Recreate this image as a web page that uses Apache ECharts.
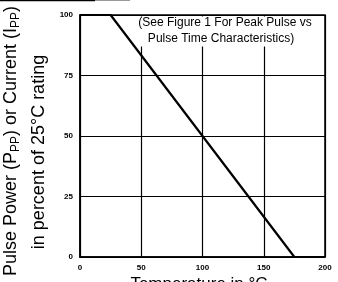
<!DOCTYPE html>
<html>
<head>
<meta charset="utf-8">
<script src="https://cdn.jsdelivr.net/npm/echarts@6/dist/echarts.min.js"></script>
<style>
	html, body { margin: 0; padding: 0; background: #fff; }
	#chart { width: 338px; height: 282px; }
</style>
</head>
<body>
<div id="chart"></div>
<script>
// derating curve, temperature in degC vs percent of 25C rating
var temps = [0, 25, 175, 200];
var percents = [100, 100, 0, 0];
var xTicks = [0, 50, 100, 150, 200];
var yTicks = [0, 25, 50, 75, 100];

var font = '"Liberation Sans", Arial, sans-serif';

var chart = echarts.init(document.getElementById('chart'));

chart.setOption({
	animation: false,
	backgroundColor: '#fff',
	grid: {
		left: 80, right: 13, top: 15, bottom: 25,
		show: true, borderColor: '#000', borderWidth: 1.5
	},
	xAxis: {
		type: 'value',
		min: xTicks[0], max: xTicks[xTicks.length - 1], interval: 50,
		axisLine: { show: true, lineStyle: { color: '#000', width: 1.5 } },
		axisTick: { show: false },
		splitLine: { show: true, lineStyle: { color: '#000', width: 1.2 } },
		axisLabel: { color: '#000', fontFamily: font, fontSize: 8, fontWeight: 'bold', margin: 7 }
	},
	yAxis: {
		type: 'value',
		min: yTicks[0], max: yTicks[yTicks.length - 1], interval: 25,
		axisLine: { show: true, lineStyle: { color: '#000', width: 1.5 } },
		axisTick: { show: false },
		splitLine: { show: true, lineStyle: { color: '#000', width: 1.2 } },
		axisLabel: { color: '#000', fontFamily: font, fontSize: 8, fontWeight: 'bold', margin: 7 }
	},
	series: [{
		type: 'line',
		data: temps.map(function (t, i) { return [t, percents[i]]; }),
		symbol: 'none',
		lineStyle: { color: '#000', width: 2.2 },
		z: 5
	}],
	graphic: [
		// scan edge at top
		{
			type: 'line', shape: { x1: 0, y1: 0.5, x2: 95, y2: 0.5 },
			style: { stroke: '#000', lineWidth: 1.5 }, z: 1
		},
		{
			type: 'line', shape: { x1: 95, y1: 0.5, x2: 130, y2: 0.5 },
			style: { stroke: '#999', lineWidth: 1 }, z: 1
		},
		// note box covering upper grid
		{
			type: 'rect', shape: { x: 116, y: 16.5, width: 208, height: 30 },
			style: { fill: '#fff' }, z: 1
		},
		{
			type: 'text', x: 225, y: 23, z: 11,
			style: {
				text: '(See Figure 1 For Peak Pulse vs', fill: '#000',
				font: '12px ' + font, align: 'center', verticalAlign: 'middle'
			}
		},
		{
			type: 'text', x: 221, y: 39, z: 11,
			style: {
				text: 'Pulse Time Characteristics)', fill: '#000',
				font: '12px ' + font, align: 'center', verticalAlign: 'middle'
			}
		},
		// y axis title, two lines
		{
			type: 'text', x: 11, y: 141, rotation: Math.PI / 2, z: 11,
			style: {
				text: 'Pulse Power (P{s|PP}) or Current (I{s|PP})', fill: '#000',
				font: '18px ' + font, align: 'center', verticalAlign: 'middle',
				rich: { s: { fontSize: 12, fontFamily: font, padding: [9, 0, 0, 0] } }
			}
		},
		{
			type: 'text', x: 39, y: 152, rotation: Math.PI / 2, z: 11,
			style: {
				text: 'in percent of 25°C rating', fill: '#000',
				font: '18px ' + font, align: 'center', verticalAlign: 'middle'
			}
		},
		// x axis title, cut by bottom edge
		{
			type: 'text', x: 199, y: 284, z: 11,
			style: {
				text: 'Temperature in °C', fill: '#000',
				font: '17px ' + font, align: 'center', verticalAlign: 'middle'
			}
		}
	]
});
</script>
</body>
</html>
